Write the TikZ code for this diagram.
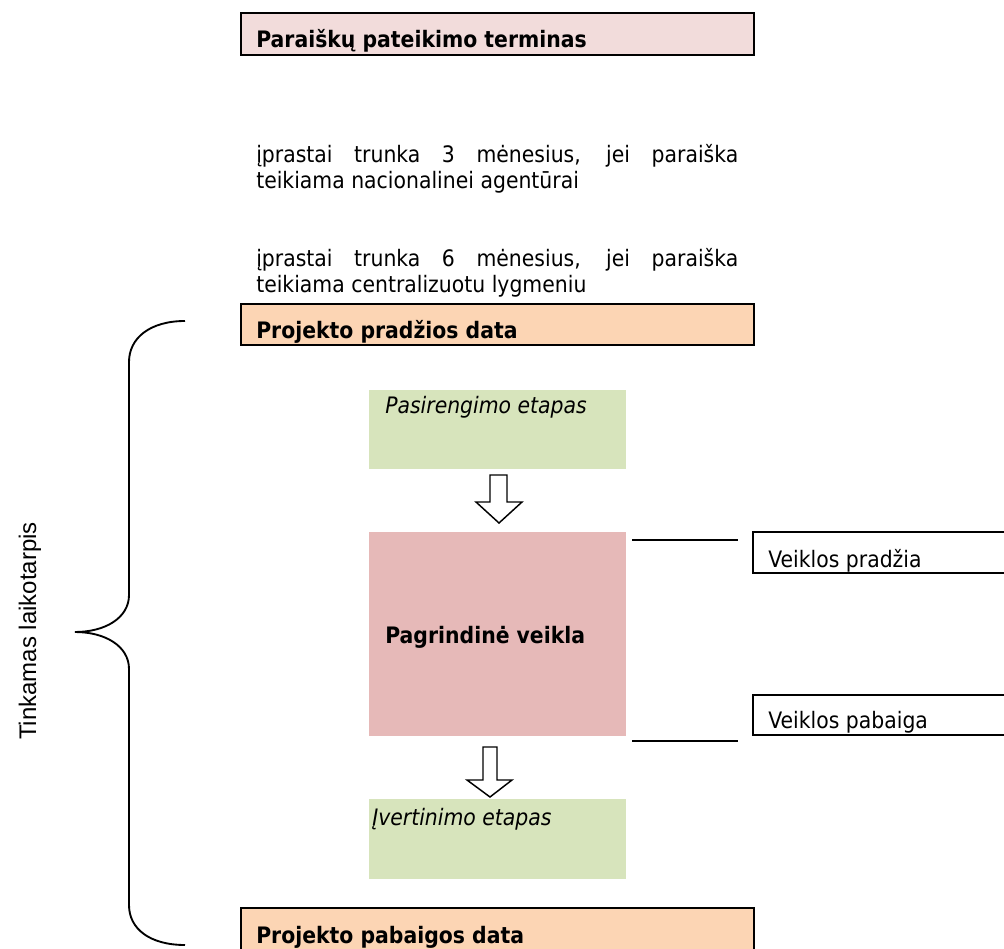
\documentclass[tikz,border=0pt]{standalone}
\usepackage{fontspec}
\setmainfont{DejaVu Sans}[FakeStretch=0.9]
\newfontfamily\arialfont{Liberation Sans}
\definecolor{termpink}{HTML}{F2DCDB}
\definecolor{datepeach}{HTML}{FCD5B4}
\definecolor{stagegreen}{HTML}{D7E4BC}
\definecolor{mainred}{HTML}{E6B9B8}
\newcommand{\bodysize}{\fontsize{17pt}{19.5pt}\selectfont}

\begin{document}
\begin{tikzpicture}[x=0.75pt,y=-0.75pt,
    every node/.style={inner sep=0pt,font=\bodysize},
    datebox/.style={draw,line width=2pt},
    actbox/.style={draw,line width=1.5pt},
    boldtxt/.style={anchor=base west,font=\bodysize\bfseries},
    stagetxt/.style={anchor=base west,font=\bodysize\itshape},
    parbox/.style={anchor=north west,text width=361.5pt,align=justify},
    blockarrow/.style={draw,fill=white,line width=1.1pt,line join=miter}]
\useasboundingbox (0,0) rectangle (1004,949);

% terminas
\draw[datebox,fill=termpink] (241,13) rectangle (754,55);
\node[boldtxt] (term) at (256,48) {Paraiškų pateikimo terminas};
\node[parbox] (nat) at (256,144) {įprastai trunka 3 mėnesius, jei paraiška teikiama nacionalinei agentūrai};
\node[parbox] (cent) at (256,248) {įprastai trunka 6 mėnesius, jei paraiška teikiama centralizuotu lygmeniu};

% projekto laikotarpis
\draw[datebox,fill=datepeach] (241,304) rectangle (754,345);
\node[boldtxt] (start) at (256,338) {Projekto pradžios data};

\fill[stagegreen] (369,390) rectangle (626,469);
\node[stagetxt] (prep) at (385,413) {Pasirengimo etapas};
\draw[blockarrow] (490,475) -- (507,475) -- (507,502) -- (522,502) -- (499,523) -- (476,502) -- (490,502) -- cycle;

\fill[mainred] (369,532) rectangle (626,736);
\node[boldtxt] (main) at (385,643) {Pagrindinė veikla};

\coordinate (mainA) at (632,540);
\coordinate (mainB) at (632,741);
\draw[line width=1.1pt] (mainA) -- ++(106,0);
\draw[line width=1.1pt] (mainB) -- ++(106,0);
\draw[actbox] (1010,532) -- (753,532) -- (753,573) -- (1010,573);
\node[anchor=base west] (actstart) at (768,567) {Veiklos pradžia};
\draw[actbox] (1010,695) -- (753,695) -- (753,735) -- (1010,735);
\node[anchor=base west] (actend) at (768,728) {Veiklos pabaiga};

\draw[blockarrow] (483,747) -- (497,747) -- (497,780) -- (512,780) -- (490,797) -- (467,780) -- (483,780) -- cycle;
\fill[stagegreen] (369,799) rectangle (626,879);
\node[stagetxt] (eval) at (372,825) {Įvertinimo etapas};

\draw[datebox,fill=datepeach] (241,960) -- (241,908) -- (754,908) -- (754,960);
\node[boldtxt] (end) at (256,943) {Projekto pabaigos data};

% tinkamas laikotarpis
\draw[line width=1.4pt] (185,321) .. controls (150,321) and (129,338) .. (129,362) -- (129,595)
  .. controls (129,618) and (105,632) .. (75,632)
  .. controls (105,632) and (129,646) .. (129,669) -- (129,905)
  .. controls (129,929) and (150,945) .. (185,945);
\node[rotate=90,font=\arialfont\fontsize{18pt}{21pt}\selectfont] (period) at (30,631) {Tinkamas laikotarpis};
\end{tikzpicture}
\end{document}
